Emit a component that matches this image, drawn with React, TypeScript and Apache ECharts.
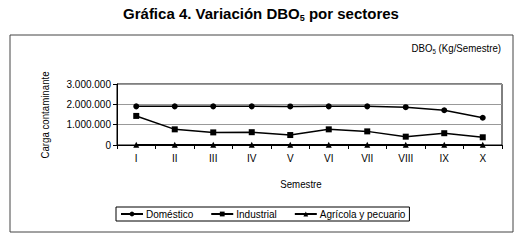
import React, { useEffect, useRef } from "react";
import * as echarts from "echarts";

const categories = ["I", "II", "III", "IV", "V", "VI", "VII", "VIII", "IX", "X"];
const domestico = [1900000, 1900000, 1900000, 1900000, 1895000, 1900000, 1900000, 1860000, 1710000, 1340000];
const industrial = [1430000, 770000, 620000, 630000, 490000, 770000, 670000, 410000, 580000, 380000];
const agricola = [10000, 10000, 10000, 10000, 10000, 10000, 10000, 10000, 10000, 10000];
const yTicks = { min: 0, max: 3000000, interval: 1000000 };

const SANS = "'Liberation Sans', Arial, sans-serif";

function fmt(v: number): string {
  return String(Math.round(v)).replace(/\B(?=(\d{3})+(?!\d))/g, ".");
}

export default function App() {
  const ref = useRef<HTMLDivElement>(null);
  useEffect(() => {
    if (!ref.current) return;
    const chart = echarts.init(ref.current, null, { renderer: "svg" });
    const lineStyle = { color: "#000", width: 1.5 };
    chart.setOption({
      animation: false,
      backgroundColor: "#fff",
      textStyle: { fontFamily: SANS },
      graphic: [
        {
          type: "rect",
          shape: { x: 10, y: 35, width: 503, height: 197 },
          style: { fill: "none", stroke: "#444", lineWidth: 1 },
          silent: true,
        },
        {
          type: "text",
          x: 261,
          y: 13,
          style: {
            text: "{t|Gráfica 4. Variación DBO}{s|5}{t| por sectores}",
            align: "center",
            verticalAlign: "middle",
            rich: {
              t: { fontFamily: SANS, fontWeight: "bold", fontSize: 15, fill: "#000" },
              s: { fontFamily: SANS, fontWeight: "bold", fontSize: 9, fill: "#000", padding: [10, 0, 0, 0] },
            },
          },
        },
        {
          type: "text",
          x: 501,
          y: 48,
          scaleX: 0.88,
          style: {
            text: "{t|DBO}{s|5}{t| (Kg/Semestre)}",
            align: "right",
            verticalAlign: "middle",
            rich: {
              t: { fontFamily: SANS, fontSize: 11, fill: "#000" },
              s: { fontFamily: SANS, fontSize: 7, fill: "#000", padding: [6, 0, 0, 0] },
            },
          },
        },
        {
          type: "text",
          x: 45,
          y: 115,
          rotation: Math.PI / 2,
          scaleX: 0.88,
          style: {
            text: "Carga contaminante",
            align: "center",
            verticalAlign: "middle",
            fontFamily: SANS,
            fontSize: 11,
            fill: "#000",
          },
        },
        {
          type: "text",
          x: 301,
          y: 184,
          scaleX: 0.88,
          style: {
            text: "Semestre",
            align: "center",
            verticalAlign: "middle",
            fontFamily: SANS,
            fontSize: 11,
            fill: "#000",
          },
        },
      ],
      grid: {
        left: 117,
        right: 22,
        top: 84,
        height: 61,
        show: true,
        borderColor: "#000",
        borderWidth: 1,
        backgroundColor: "transparent",
      },
      xAxis: {
        type: "category",
        data: categories,
        boundaryGap: true,
        axisLine: { lineStyle: { color: "#000", width: 1 } },
        axisTick: { show: true, length: 4, lineStyle: { color: "#000" } },
        axisLabel: { color: "#000", fontFamily: SANS, fontSize: 10, margin: 8 },
      },
      yAxis: {
        type: "value",
        min: yTicks.min,
        max: yTicks.max,
        interval: yTicks.interval,
        axisLine: { show: true, lineStyle: { color: "#000", width: 1 } },
        axisTick: { show: true, length: 4, lineStyle: { color: "#000" } },
        axisLabel: { color: "#000", fontFamily: SANS, fontSize: 10, margin: 6, formatter: (v: number) => fmt(v) },
        splitLine: { show: true, lineStyle: { color: "#999", width: 1 } },
      },
      legend: {
        left: 116,
        top: 207,
        orient: "horizontal",
        borderColor: "#000",
        borderWidth: 1,
        padding: [2, 4, 2, 4],
        itemGap: 17,
        itemWidth: 22,
        itemHeight: 6,
        textStyle: { color: "#000", fontFamily: SANS, fontSize: 10, padding: [0, 0, 0, -2] },
        data: ["Doméstico", "Industrial", "Agrícola y pecuario"],
      },
      series: [
        {
          name: "Doméstico",
          type: "line",
          data: domestico,
          symbol: "circle",
          symbolSize: 6,
          lineStyle,
          itemStyle: { color: "#000" },
        },
        {
          name: "Industrial",
          type: "line",
          data: industrial,
          symbol: "rect",
          symbolSize: 6,
          lineStyle,
          itemStyle: { color: "#000" },
        },
        {
          name: "Agrícola y pecuario",
          type: "line",
          data: agricola,
          symbol: "triangle",
          symbolSize: 6,
          lineStyle,
          itemStyle: { color: "#000" },
        },
      ],
    });
    return () => chart.dispose();
  }, []);
  return (
    <div
      ref={ref}
      style={{ position: "fixed", left: 0, top: 0, width: 524, height: 245 }}
    />
  );
}
